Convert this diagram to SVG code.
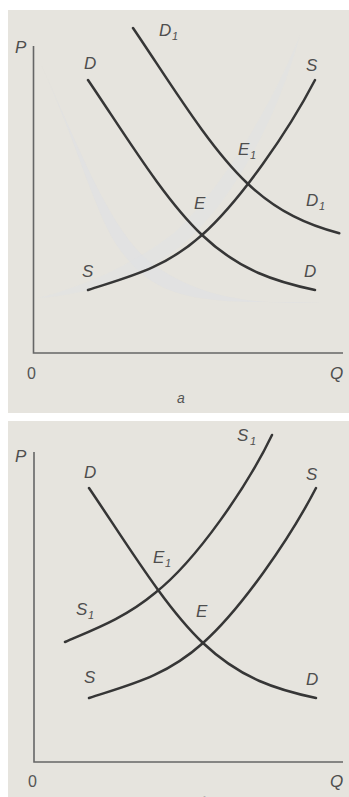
<svg xmlns="http://www.w3.org/2000/svg" width="349" height="797" viewBox="0 0 349 797">
  <style>
    .panel { fill: #e6e4de; }
    .axis { fill: none; stroke: #666; stroke-width: 1.6; }
    .curve { fill: none; stroke: #363636; stroke-width: 2.5; stroke-linecap: round; }
    .lbl { font-family: "Liberation Sans", Arial, sans-serif; font-style: italic; font-size: 17px; fill: #4e4e4e; }
    .sub { font-family: "Liberation Sans", Arial, sans-serif; font-style: italic; font-size: 11px; fill: #4e4e4e; }
    .num { font-family: "Liberation Sans", Arial, sans-serif; font-size: 16px; fill: #555; }
    .cap { font-family: "Liberation Sans", Arial, sans-serif; font-style: italic; font-size: 14px; fill: #555; }
  </style>
  <rect width="349" height="797" fill="#ffffff"/>

  <!-- Panel a -->
  <g id="panel-a">
    <rect class="panel" x="8" y="10" width="341" height="403"/>
    <path d="M40,62 C80,150 110,230 150,262 C200,300 260,305 320,302 L250,302 C180,300 150,290 120,250 C95,215 80,150 40,62 Z" fill="#dde0e6" opacity="0.5"/>
    <path d="M38,298 C90,285 140,260 175,232 C220,190 270,110 300,35 C280,110 240,190 190,238 C150,275 90,295 38,298 Z" fill="#dfe3e4" opacity="0.45"/>
  </g>

  <!-- Panel b -->
  <g id="panel-b">
    <rect class="panel" x="8" y="421" width="341" height="376"/>
  </g>

  <!-- Axes -->
  <g id="axes-a">
    <polyline class="axis" points="33.5,46 33.5,353 343,353"/>
    <text class="lbl" x="15" y="53">P</text>
    <text class="num" x="27" y="379">0</text>
    <text class="lbl" x="330" y="379">Q</text>
    <text class="cap" x="177" y="403">а</text>
  </g>
  <g id="axes-b">
    <polyline class="axis" points="34,452 34,762 343,762"/>
    <text class="lbl" x="15" y="462">P</text>
    <text class="num" x="28" y="787">0</text>
    <text class="lbl" x="330" y="787">Q</text>
    <text class="cap" x="197" y="808">б</text>
  </g>

  <!-- Curves (connectors) -->
  <g id="curves">
    <path id="a-D" class="curve" d="M88,80 C126,136 164,199 202,235 C240,271 277,282 315,290"/>
    <path id="a-D1" class="curve" d="M133,28 C171,84 209,147 247,183 C278.2,212.5 308.7,225.3 339.3,233.3"/>
    <path id="a-S" class="curve" d="M88,290 C128,277 164,269 202,235 C240,201 288,132 315,80"/>
    <path id="b-D" class="curve" d="M89,488 C127,544 165,607 203,643 C241,679 278,690 316,698"/>
    <path id="b-S" class="curve" d="M89,698 C129,685 165,677 203,643 C241,609 289,540 316,488"/>
    <path id="b-S1" class="curve" d="M65,642 C95,629 125,618 155,593 C197,560 248,485 272,435"/>
  </g>

  <!-- Labels panel a -->
  <g id="labels-a">
    <text class="lbl" x="159" y="36">D</text><text class="sub" x="172" y="40">1</text>
    <text class="lbl" x="84" y="69">D</text>
    <text class="lbl" x="306" y="71">S</text>
    <text class="lbl" x="238" y="155">E</text><text class="sub" x="250" y="159">1</text>
    <text class="lbl" x="194" y="209">E</text>
    <text class="lbl" x="306" y="206">D</text><text class="sub" x="319" y="210">1</text>
    <text class="lbl" x="82" y="277">S</text>
    <text class="lbl" x="304" y="277">D</text>
  </g>

  <!-- Labels panel b -->
  <g id="labels-b">
    <text class="lbl" x="237" y="441">S</text><text class="sub" x="250" y="445">1</text>
    <text class="lbl" x="84" y="478">D</text>
    <text class="lbl" x="306" y="480">S</text>
    <text class="lbl" x="153" y="563">E</text><text class="sub" x="165" y="567">1</text>
    <text class="lbl" x="76" y="615">S</text><text class="sub" x="88" y="619">1</text>
    <text class="lbl" x="196" y="617">E</text>
    <text class="lbl" x="84" y="683">S</text>
    <text class="lbl" x="306" y="685">D</text>
  </g>
</svg>
